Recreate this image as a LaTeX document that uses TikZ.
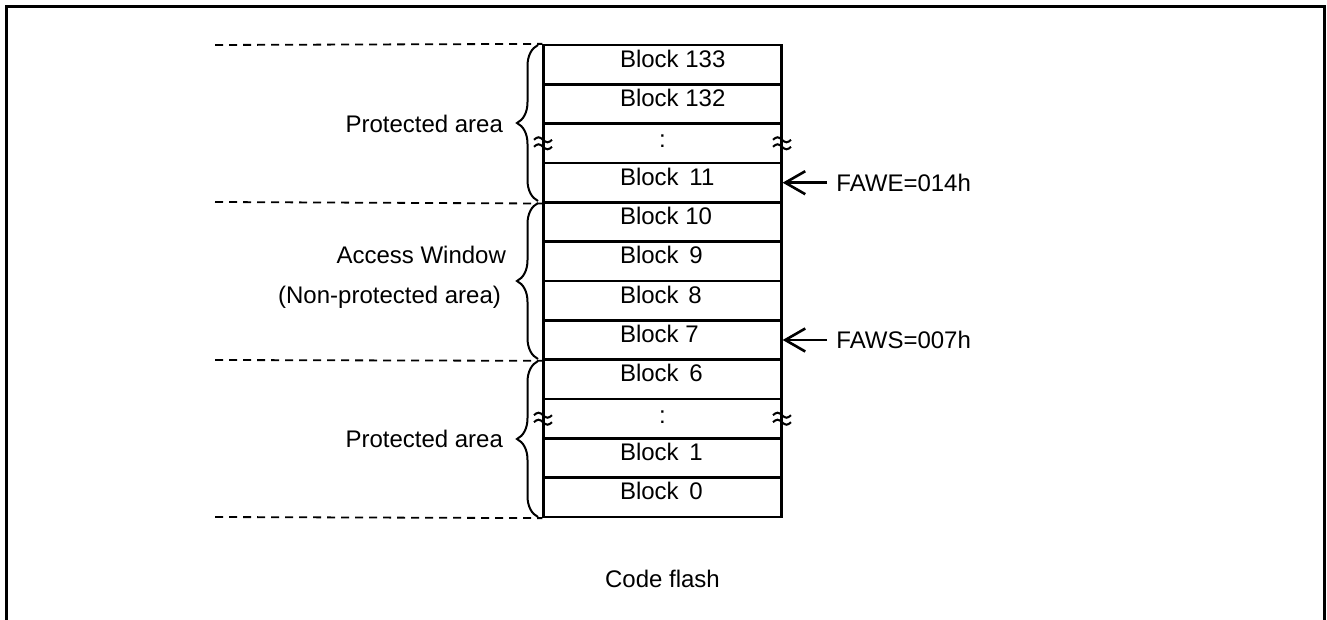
\documentclass[tikz,border=0pt]{standalone}
\usepackage{fontspec}
\setmainfont{Liberation Sans}
\usetikzlibrary{decorations.pathreplacing,arrows.meta}

\newcommand{\blabel}[1]{\raisebox{3pt}[\height][\depth]{\makebox[42.5pt][l]{#1}}}

\tikzset{
  blk/.style={draw, line width=1.15pt, minimum width=119pt, minimum height=19.67pt, inner sep=0pt},
  sep/.style={dash pattern=on 4pt off 3pt, line width=0.9pt},
  brc/.style={decorate, decoration={brace, amplitude=10.5pt}, line width=1pt},
  ptr/.style={-{Straight Barb[length=10pt,width=11.5pt]}, line width=1.3pt},
}

\begin{document}
\begin{tikzpicture}[x=0.5pt, y=-0.5pt, font=\fontsize{12pt}{14pt}\selectfont]
            \useasboundingbox (0,0) rectangle (1327,620);
            \draw[line width=1.5pt] (6,620) -- (6,7) -- (1324,7) -- (1324,620);

            % code flash blocks
            \node[blk] (b133) at (662.5,64.7) {\blabel{Block 133}};
            \node[blk] (b132) at (662.5,104) {\blabel{Block 132}};
            \node[blk] (gapA) at (662.5,143.3) {\raisebox{2pt}{:}};
            \node[blk] (b11) at (662.5,182.7) {\blabel{Block\hspace{0.45em}11}};
            \node[blk] (b10) at (662.5,222) {\blabel{Block 10}};
            \node[blk] (b9) at (662.5,261.3) {\blabel{Block\hspace{0.45em}9}};
            \node[blk] (b8) at (662.5,300.7) {\blabel{Block\hspace{0.4em}8}};
            \node[blk] (b7) at (662.5,340) {\blabel{Block 7}};
            \node[blk] (b6) at (662.5,379.3) {\blabel{Block\hspace{0.45em}6}};
            \node[blk] (gapB) at (662.5,418.7) {\raisebox{2pt}{:}};
            \node[blk] (b1) at (662.5,458) {\blabel{Block\hspace{0.45em}1}};
            \node[blk] (b0) at (662.5,497.3) {\blabel{Block\hspace{0.45em}0}};
            \node (flash) at (662.5,579) {Code flash};

            % break marks
            \foreach \x/\y in {543/143.3, 782/143.3, 543/418.7, 782/418.7}
                \foreach \dy in {-3.5,3.5}
                    \draw[line width=1pt] ({\x-9},{\y+\dy}) sin ++(4.5,-2.5) cos ++(4.5,2.5) sin ++(4.5,2.5) cos ++(4.5,-2.5);

            % area borders
            \coordinate (s1) at (215,45);
            \coordinate (s2) at (215,202);
            \coordinate (s3) at (215,360);
            \coordinate (s4) at (215,517);
            \draw[sep] (s1) -- (b133.north west);
            \draw[sep] (s2) -- (b11.south west);
            \draw[sep] (s3) -- (b7.south west);
            \draw[sep] (s4) -- (b0.south west);

            \draw[brc] (538,201) -- (538,45);
            \draw[brc] (538,359) -- (538,203);
            \draw[brc] (538,517) -- (538,361);

            \node[anchor=east] (top) at (510,124) {Protected area};
            \node[anchor=east] (win) at (513,255) {Access Window};
            \node[anchor=east] (nonp) at (508,297) {(Non-protected area)};
            \node[anchor=east] (bot) at (510,439) {Protected area};

            % window registers
            \node[anchor=west, inner sep=4.5pt] (fawe) at (827,182.7) {FAWE=014h};
            \node[anchor=west, inner sep=4.5pt] (faws) at (827,340) {FAWS=007h};
            \draw[ptr] (fawe.west) -- (b11.east);
            \draw[ptr] (faws.west) -- (b7.east);
        \end{tikzpicture}
\end{document}
